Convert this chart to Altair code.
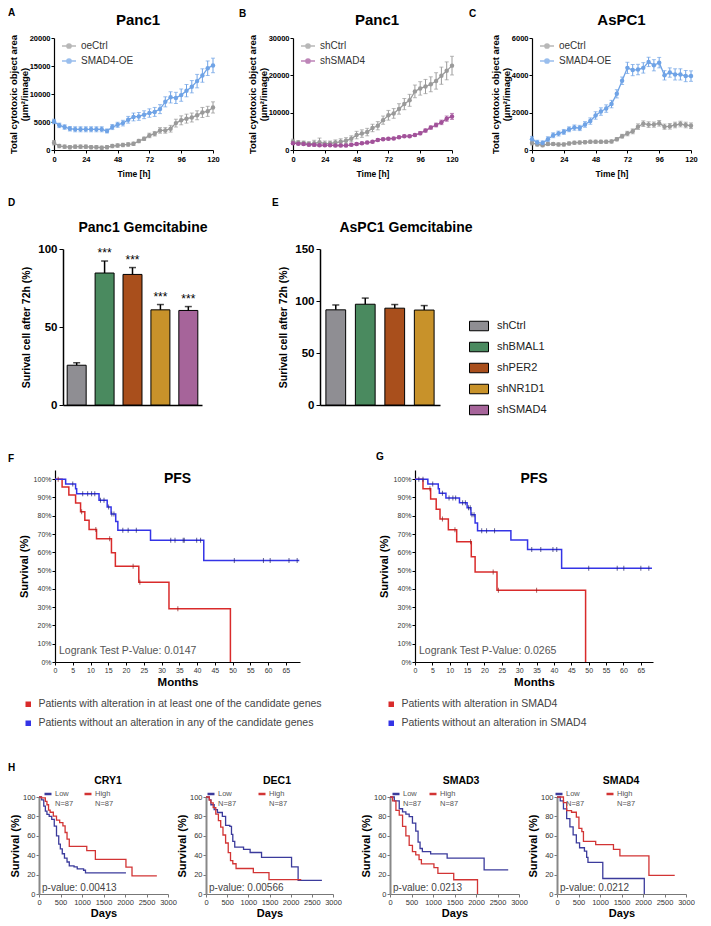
import altair as alt
import pandas as pd

FONT = "Liberation Sans"

# ---------------- data: time courses (A, B, C) ----------------
TIME = list(range(0, 121, 4))

A_NAMES = ["oeCtrl", "SMAD4-OE"]
A_CTRL = [1300, 700, 600, 500, 600, 600, 600, 500, 500, 400, 500, 700, 800, 900, 1000, 1100,
          1600, 2000, 2600, 2900, 3500, 3500, 3800, 4800, 5300, 5600, 5800, 6200, 6700, 6900, 7600]
A_CTRL_ERR = [400, 300, 300, 300, 300, 300, 300, 300, 300, 300, 300, 300, 300, 300, 300, 300,
              300, 300, 400, 400, 500, 500, 600, 700, 800, 800, 800, 800, 900, 900, 1000]
A_OE = [5100, 4400, 4100, 3800, 3700, 3700, 3700, 3700, 3700, 3700, 3400, 4100, 4500, 4800, 5400, 5900,
        6000, 6300, 6600, 6800, 7300, 8600, 9400, 9300, 9800, 10600, 11300, 12300, 13300, 14600, 15100]
A_OE_ERR = [400, 400, 400, 400, 450, 450, 450, 450, 450, 450, 350, 450, 450, 500, 600, 700,
            700, 700, 750, 800, 800, 900, 1000, 1000, 1100, 1100, 1100, 1200, 1200, 1300, 1300]

B_NAMES = ["shCtrl", "shSMAD4"]
B_CTRL = [2200, 2000, 1900, 1700, 1800, 2100, 1700, 1800, 2000, 2200, 2500, 3000, 4000, 4400, 4800, 5900,
          6500, 8000, 9300, 9800, 11000, 12300, 13300, 15700, 16500, 17000, 17600, 18500, 19900, 21200, 22600]
B_CTRL_ERR = [700, 500, 500, 500, 800, 1100, 700, 600, 700, 800, 800, 800, 1000, 1000, 1000, 1000,
              1100, 1100, 1300, 1300, 1400, 1500, 1600, 1700, 1800, 1900, 2000, 2200, 2300, 2400, 2500]
B_SH = [1800, 1700, 1600, 1400, 1400, 1300, 1300, 1300, 1200, 1200, 1200, 1400, 1600, 1800, 2000, 2200,
        2700, 2900, 3000, 3100, 3400, 3700, 3700, 4000, 4500, 5200, 6000, 6700, 7400, 8400, 9000]
B_SH_ERR = [300, 300, 300, 300, 300, 300, 300, 300, 300, 300, 300, 300, 300, 300, 300, 300,
            300, 300, 300, 300, 300, 300, 300, 300, 400, 400, 400, 500, 600, 700, 800]

C_NAMES = ["oeCtrl", "SMAD4-OE"]
C_CTRL = [370, 300, 260, 320, 320, 300, 300, 350, 390, 400, 420, 440, 440, 440, 440, 460,
          580, 740, 880, 1000, 1250, 1410, 1360, 1360, 1430, 1250, 1270, 1340, 1390, 1340, 1300]
C_CTRL_ERR = [100, 80, 80, 80, 80, 80, 80, 80, 80, 80, 80, 80, 80, 80, 80, 80,
              90, 100, 120, 130, 150, 150, 150, 140, 150, 140, 150, 150, 150, 150, 150]
C_OE = [580, 400, 370, 580, 790, 880, 970, 1110, 1200, 1180, 1370, 1550, 1850, 2060, 2220, 2460,
        3010, 3710, 4400, 4280, 4310, 4400, 4720, 4540, 4680, 4000, 4150, 4050, 4050, 3960, 3960]
C_OE_ERR = [150, 120, 120, 130, 130, 130, 130, 130, 140, 140, 150, 170, 200, 200, 200, 200,
            220, 200, 300, 300, 280, 280, 250, 300, 280, 250, 250, 300, 300, 300, 280]

# ---------------- data: bars (D, E) ----------------
CATS = ["shCtrl", "shBMAL1", "shPER2", "shNR1D1", "shSMAD4"]
BAR_COLORS = ["#8f8e93", "#4a8a5f", "#a94f1c", "#c8922a", "#a6649a"]
D_VALS = [25.5, 84.6, 83.7, 61.0, 60.6]
D_ERR = [1.6, 7.7, 4.4, 3.4, 2.5]
D_STARS = ["", "***", "***", "***", "***"]
E_CATS = ["shCtrl", "shBMAL1", "shPER2", "shNR1D1"]
E_VALS = [91.5, 96.9, 93.1, 91.3]
E_ERR = [4.7, 5.9, 3.5, 4.3]

# ---------------- data: PFS (F, G) ----------------
F_NAMES = ["Patients with alteration in at least one of the candidate genes",
           "Patients without an alteration in any of the candidate genes"]
F_RED_T = [0, 2.0, 3.9, 5.8, 7.2, 8.4, 9.6, 11.7, 15.9, 17.0, 23.6, 32.1, 49.4]
F_RED_S = [100, 95.7, 91.3, 86.9, 82.2, 77.5, 72.4, 67.4, 59.8, 52.3, 43.6, 29.1, 0]
F_RED_C = [0.9, 7.5, 11.5, 15.4, 22.0, 23.9, 34.6]
F_BLUE_T = [0, 3.0, 5.8, 6.1, 12.4, 14.7, 15.8, 17.1, 17.7, 26.9, 41.9, 68.8]
F_BLUE_S = [100, 97.4, 94.7, 92.0, 88.4, 84.8, 81.0, 76.8, 72.0, 66.6, 55.5, 55.5]
F_BLUE_C = [5.0, 7.8, 9.2, 10.3, 11.2, 12.8, 13.8, 15.1, 16.0, 16.6, 19.1, 20.6, 22.9,
            32.6, 33.8, 36.1, 36.4, 39.9, 41.0, 50.5, 58.7, 60.6, 65.9, 68.2]

G_NAMES = ["Patients with alteration in SMAD4", "Patients without an alteration in SMAD4"]
G_RED_T = [0, 2.3, 4.5, 6.1, 7.2, 9.6, 12.0, 16.2, 17.3, 23.6, 49.1]
G_RED_S = [100, 94.7, 89.2, 83.5, 78.2, 72.3, 65.7, 57.5, 49.2, 39.3, 0]
G_RED_C = [4.3, 7.9, 11.5, 16.0, 22.5, 24.0, 35.0]
G_BLUE_T = [0, 3.7, 6.7, 7.0, 8.9, 12.8, 15.0, 16.1, 17.3, 18.0, 27.6, 32.4, 42.2, 68.2]
G_BLUE_S = [100, 97.4, 94.8, 92.3, 89.7, 87.1, 84.4, 80.5, 76.0, 71.8, 66.7, 61.5, 51.3, 51.3]
G_BLUE_C = [1.1, 2.3, 5.1, 7.9, 9.8, 10.9, 11.7, 13.7, 14.5, 15.4, 15.9, 16.4, 17.0, 19.2, 20.6,
            22.9, 33.6, 36.2, 39.7, 40.8, 50.0, 58.2, 60.1, 65.0, 67.3]

# ---------------- data: overall survival (H) ----------------
H_NAMES = ["Low", "High"]
CRY1_LOW_T = [0, 59, 111, 148, 185, 237, 296, 355, 407, 459, 496, 541, 592, 652, 704, 815, 889, 1037, 1081, 2022]
CRY1_LOW_S = [100, 97, 90.5, 85.5, 82, 80, 77, 70, 60, 51.5, 46.5, 41.5, 37, 33, 29, 28, 26, 24.5, 21.7, 21.7]
CRY1_HIGH_T = [0, 52, 148, 185, 222, 259, 333, 407, 481, 556, 607, 652, 704, 1111, 1311, 2022, 2163, 2741]
CRY1_HIGH_S = [100, 99, 95.5, 92, 86.4, 84.3, 80.3, 76.2, 73.6, 70.2, 63.4, 56.6, 49.2, 44.7, 35.6, 27.8, 18.7, 18.7]

DEC1_LOW_T = [0, 77, 116, 193, 270, 386, 463, 563, 602, 633, 679, 887, 1042, 1312, 2021, 2176, 2738]
DEC1_LOW_S = [100, 97, 92, 87, 84, 80, 70.8, 69.8, 61.5, 54.3, 48.4, 46, 42.8, 37.8, 28, 14, 14]
DEC1_HIGH_T = [0, 77, 116, 170, 231, 293, 347, 401, 463, 525, 579, 633, 710, 1118, 1488, 2250]
DEC1_HIGH_S = [100, 96.7, 94, 89, 82.3, 75.7, 69, 60.8, 52.6, 42.7, 34.5, 31.2, 26.3, 22, 14.8, 14.8]

SMAD3_LOW_T = [0, 100, 215, 292, 369, 446, 522, 599, 653, 699, 753, 945, 1329, 2189, 2749]
SMAD3_LOW_S = [100, 96, 87.9, 84.6, 82.3, 79.7, 73.1, 64.9, 53.4, 46.9, 43.6, 41.3, 37, 24.9, 24.9]
SMAD3_HIGH_T = [0, 61, 138, 215, 292, 369, 446, 522, 599, 676, 730, 1022, 1114, 1482, 2035]
SMAD3_HIGH_S = [100, 96, 86.2, 81.3, 69.8, 60, 50.1, 43.6, 40.3, 35.4, 31.1, 27.2, 21.3, 14.7, 0]

SMAD4_LOW_T = [0, 75, 150, 225, 300, 375, 450, 525, 638, 690, 720, 1065, 2030]
SMAD4_LOW_S = [100, 96, 87.7, 77.7, 69.3, 61, 52.7, 47.7, 44.3, 37.7, 32.7, 16, 0]
SMAD4_HIGH_T = [0, 150, 225, 338, 450, 510, 578, 615, 900, 1313, 1463, 2138, 2738]
SMAD4_HIGH_S = [100, 94.3, 86, 84.3, 79.3, 67.7, 64.3, 54.3, 51, 46, 39.3, 19.3, 19.3]

LINE_DOT = "M-1,0H-0.3M0.3,0H1M-0.3,0A0.3,0.3,0,1,1,0.3,0A0.3,0.3,0,1,1,-0.3,0Z"
RECT = "M-1,-0.5H1V0.5H-1Z"


def label(text, x, y, size=10, weight="bold", color="black", align="left",
          baseline="top", opacity=1.0):
    return alt.Chart(alt.Data(values=[{"k": 0}])).mark_text(
        text=text, font=FONT, fontSize=size, fontWeight=weight, color=color,
        align=align, baseline=baseline, opacity=opacity
    ).encode(x=alt.value(x), y=alt.value(y))


def title_label(text, x, y, size):
    return label(text, x, y, size=size, align="center", baseline="alphabetic")


def spacer(width, letter=None, ly=0):
    if letter is None:
        lay = label(" ", 0, 0, size=2, opacity=0)
    else:
        lay = label(letter, 0, ly)
    return alt.layer(lay).properties(width=width, height=1)


# ---------------- A, B, C ----------------
def ts_panel(names, colors, vals, errs, ymax, yvals, width, height, title, tdx,
             letter=None, lx=0, ly=0):
    rows = []
    for n, v, e in zip(names, vals, errs):
        for t, a, b in zip(TIME, v, e):
            rows.append({"t": t, "v": a, "lo": a - b, "hi": a + b, "s": n})
    df = pd.DataFrame(rows)
    sc = alt.Scale(domain=names, range=colors)
    leg = alt.Legend(title=None, orient="none", legendX=7, legendY=0, symbolType=LINE_DOT,
                     symbolSize=196, symbolStrokeWidth=1.5, labelFontSize=10, labelColor="#333",
                     labelFont=FONT, rowPadding=1, labelOffset=4)
    xsc = alt.Scale(domain=[0, 120], nice=False)
    ysc = alt.Scale(domain=[0, ymax], nice=False)
    xax = alt.Axis(values=[0, 24, 48, 72, 96, 120], title="Time [h]", labelFontSize=7.5,
                   labelFontWeight="bold", titleFontSize=8.5, titleFontWeight="bold",
                   titlePadding=7, tickSize=3, domainWidth=1.2, labelPadding=2,
                   labelFlush=False, labelOverlap=False)
    yax = alt.Axis(values=yvals, format="d", title=["Total cytotoxic object area", "(µm²/image)"],
                   labelFontSize=7.5, labelFontWeight="bold", titleFontSize=9.5,
                   titleFontWeight="bold", titlePadding=0, tickSize=3, domainWidth=1.2,
                   labelPadding=1, titleLineHeight=10.5, labelOverlap=False)
    X = alt.X("t:Q", scale=xsc, axis=xax)
    base = alt.Chart(df)
    stroke = alt.Stroke("s:N", scale=sc, legend=leg)
    fill = alt.Fill("s:N", scale=sc, legend=leg)
    rule = base.mark_rule(strokeWidth=1).encode(
        X, alt.Y("lo:Q", scale=ysc, axis=yax), alt.Y2("hi:Q"), stroke=stroke)
    cap_hi = base.mark_tick(orient="horizontal", size=4, thickness=1).encode(
        X, alt.Y("hi:Q", scale=ysc, axis=yax), fill=fill)
    cap_lo = base.mark_tick(orient="horizontal", size=4, thickness=1).encode(
        X, alt.Y("lo:Q", scale=ysc, axis=yax), fill=fill)
    line = base.mark_line(strokeWidth=1.3).encode(
        X, alt.Y("v:Q", scale=ysc, axis=yax), stroke=stroke)
    pts = base.mark_point(filled=True, size=20, opacity=1).encode(
        X, alt.Y("v:Q", scale=ysc, axis=yax), fill=fill)
    layers = [line, rule, cap_hi, cap_lo, pts, title_label(title, width / 2 + tdx, -13, 15)]
    if letter is not None:
        layers.append(label(letter, lx, ly))
    return alt.layer(*layers).properties(width=width, height=height)


# ---------------- D, E ----------------
def bar_panel(cats, vals, errs, stars, ymax, yvals, width, height, title, tdx,
              pin, pout, letter=None, lx=0, ly=0, legend=None, extender=None):
    df = pd.DataFrame({"c": cats, "v": vals, "hi": [v + e for v, e in zip(vals, errs)],
                       "star": stars})
    X = alt.X("c:N", sort=cats, scale=alt.Scale(paddingInner=pin, paddingOuter=pout),
              axis=alt.Axis(labels=False, ticks=False, title=None, domainWidth=1.5))
    ysc = alt.Scale(domain=[0, ymax], nice=False)
    yax = alt.Axis(values=yvals, title="Surival cell after 72h (%)", labelFontSize=11.5,
                   labelFontWeight="bold", titleFontSize=10.5, titleFontWeight="bold",
                   titlePadding=6, tickSize=4, domainWidth=1.5, labelPadding=2, labelOverlap=False)
    base = alt.Chart(df)
    col = alt.Color("c:N", scale=alt.Scale(domain=CATS, range=BAR_COLORS),
                    legend=legend if legend is not None else None)
    bars = base.mark_bar(stroke="black", strokeWidth=1).encode(
        X, alt.Y("v:Q", scale=ysc, axis=yax), color=col)
    err = base.mark_rule(strokeWidth=1.5, color="black").encode(
        X, alt.Y("v:Q", scale=ysc, axis=yax), alt.Y2("hi:Q"))
    cap = base.mark_tick(orient="horizontal", size=7, thickness=1.5, color="black").encode(
        X, alt.Y("hi:Q", scale=ysc, axis=yax))
    layers = [bars, err, cap]
    if any(stars):
        layers.append(base.mark_text(baseline="bottom", dy=-1, fontSize=12, font=FONT).encode(
            X, alt.Y("hi:Q", scale=ysc, axis=yax), text="star:N"))
    layers.append(title_label(title, width / 2 + tdx, -17, 14))
    if letter is not None:
        layers.append(label(letter, lx, ly))
    if extender is not None:
        layers.append(label(".", 0, extender, size=4, opacity=0))
    return alt.layer(*layers).properties(width=width, height=height)


# ---------------- KM helpers ----------------
def step_value(ts, ss, c):
    val = ss[0]
    for t, s in zip(ts, ss):
        if t <= c:
            val = s
    return val


def steps_df(names, ts_list, ss_list):
    rows = []
    for n, ts, ss in zip(names, ts_list, ss_list):
        for t, s in zip(ts, ss):
            rows.append({"t": t, "s": s, "g": n})
    return pd.DataFrame(rows)


def pfs_panel(names, ts_list, ss_list, cens_list, pval, width, height, xmax,
              legx, legy, letter=None, lx=0, ly=0, extender=None):
    colors = ["#d92b2b", "#3434e6"]
    ccolors = ["#8a1a1a", "#1e1e66"]
    xsc = alt.Scale(domain=[0, xmax], nice=False)
    ysc = alt.Scale(domain=[0, 105], nice=False)
    xax = alt.Axis(values=list(range(0, 66, 5)), title="Months", labelFontSize=7,
                   labelColor="#333", titleFontSize=11.5, titleFontWeight="bold", titlePadding=3,
                   tickSize=3, domainWidth=1.2, labelPadding=1, labelFlush=False, labelOverlap=False)
    yax = alt.Axis(values=list(range(0, 101, 10)), labelExpr="datum.value + '%'",
                   title="Survival (%)", labelFontSize=7, labelColor="#333", titleFontSize=11,
                   titleFontWeight="bold", titlePadding=4, tickSize=3, domainWidth=1.2,
                   labelPadding=1, labelOverlap=False)
    X = alt.X("t:Q", scale=xsc, axis=xax)
    Y = alt.Y("s:Q", scale=ysc, axis=yax)
    leg = alt.Legend(title=None, orient="none", legendX=legx, legendY=legy, symbolType="square",
                     symbolSize=4, symbolStrokeWidth=3.5, labelFontSize=10.5, labelColor="#444",
                     labelFont=FONT, labelLimit=500, rowPadding=2, labelOffset=5)
    lines = alt.Chart(steps_df(names, ts_list, ss_list)).mark_line(
        interpolate="step-after", strokeWidth=1.5).encode(
        X, Y, color=alt.Color("g:N", scale=alt.Scale(domain=names, range=colors), legend=leg))
    layers = [lines]
    for ts, ss, cs, cc in zip(ts_list, ss_list, cens_list, ccolors):
        cdf = pd.DataFrame({"t": cs, "s": [step_value(ts, ss, c) for c in cs]})
        layers.append(alt.Chart(cdf).mark_tick(orient="vertical", size=5, thickness=1, color=cc)
                      .encode(X, Y))
    layers.append(label("PFS", width / 2, 2, size=14, align="center"))
    layers.append(label(pval, 4, height - 8, size=10.5, weight="normal", color="#555",
                        baseline="alphabetic"))
    if letter is not None:
        layers.append(label(letter, lx, ly))
    if extender is not None:
        layers.append(label(".", 0, extender, size=4, opacity=0))
    return alt.layer(*layers).properties(width=width, height=height)


def os_panel(title, title_x, low_t, low_s, high_t, high_s, pval, width, height, col_pad, legx,
             xrange=None):
    colors = ["#3b3b9c", "#d23434"]
    if xrange is None:
        xsc = alt.Scale(domain=[0, 3000], nice=False)
    else:
        xsc = alt.Scale(domain=[0, 3000], nice=False, range=[0, xrange])
    ysc = alt.Scale(domain=[0, 100], nice=False)
    xax = alt.Axis(values=list(range(0, 3001, 500)), format="d", title="Days", labelFontSize=7.5,
                   labelColor="#333", titleFontSize=11, titleFontWeight="bold", titlePadding=2,
                   tickSize=3, domainColor="#777", domainWidth=1.2, tickColor="#777",
                   labelPadding=1, labelFlush=False, labelOverlap=False)
    yax = alt.Axis(values=list(range(0, 101, 20)), title="Survival (%)", labelFontSize=7.5,
                   labelColor="#333", titleFontSize=11, titleFontWeight="bold", titlePadding=2,
                   tickSize=3, domainColor="#888", domainWidth=2, tickColor="#777",
                   labelPadding=1, labelOverlap=False)
    X = alt.X("t:Q", scale=xsc, axis=xax)
    Y = alt.Y("s:Q", scale=ysc, axis=yax)
    leg = alt.Legend(title=None, orient="none", legendX=legx, legendY=-8, direction="horizontal",
                     symbolType="stroke", symbolSize=49, symbolStrokeWidth=2.5,
                     labelFontSize=7.5, labelColor="#555", labelFont=FONT,
                     labelExpr="[datum.label, 'N=87']", columnPadding=col_pad, labelOffset=2)
    lines = alt.Chart(steps_df(H_NAMES, [low_t, high_t], [low_s, high_s])).mark_line(
        interpolate="step-after", strokeWidth=1.3).encode(
        X, Y, color=alt.Color("g:N", scale=alt.Scale(domain=H_NAMES, range=colors), legend=leg))
    layers = [lines,
              label(pval, 3, height - 1, size=10, weight="normal", color="#444", baseline="bottom"),
              title_label(title, title_x, -13, 10.5)]
    return alt.layer(*layers).properties(width=width, height=height)


RES = dict(color="independent", fill="independent", stroke="independent")

# ---------------- rows ----------------
pA = ts_panel(A_NAMES, ["#9a9a9a", "#6fa3e6"], [A_CTRL, A_OE], [A_CTRL_ERR, A_OE_ERR],
              20000, [0, 5000, 10000, 15000, 20000], 159, 112, "Panc1", 4.5)
pB = ts_panel(B_NAMES, ["#9a9a9a", "#a2529a"], [B_CTRL, B_SH], [B_CTRL_ERR, B_SH_ERR],
              30000, [0, 10000, 20000, 30000], 159, 112, "Panc1", 4.5, "B", -54, -29)
pC = ts_panel(C_NAMES, ["#9a9a9a", "#6fa3e6"], [C_CTRL, C_OE], [C_CTRL_ERR, C_OE_ERR],
              6000, [0, 2000, 4000, 6000], 159, 112, "AsPC1", 10, "C", -63, -29)
row1 = alt.hconcat(spacer(46, "A", -30), pA, spacer(80), pB, spacer(80), pC,
                   spacing=0, bounds="flush").resolve_scale(**RES)

e_leg = alt.Legend(title=None, orient="none", legendX=149, legendY=67, symbolType=RECT,
                   symbolSize=361, symbolStrokeColor="black", symbolStrokeWidth=1,
                   labelFontSize=11, labelColor="#222", labelFont=FONT, rowPadding=4,
                   labelOffset=8)
pD = bar_panel(CATS, D_VALS, D_ERR, D_STARS, 100, [0, 50, 100], 139, 156,
               "Panc1 Gemcitabine", 10.5, 0.32, 0.15, extender=179)
pE = bar_panel(E_CATS, E_VALS, E_ERR, ["", "", "", ""], 150, [0, 50, 100, 150], 120, 156,
               "AsPC1 Gemcitabine", 26, 0.33, 0.2, "E", -48, -51, legend=e_leg)
row2 = alt.hconcat(spacer(55, "D", -51), pD, spacer(118), pE,
                   spacing=0, bounds="flush").resolve_scale(**RES)

pF = pfs_panel(F_NAMES, [F_RED_T, F_BLUE_T], [F_RED_S, F_BLUE_S], [F_RED_C, F_BLUE_C],
               "Logrank Test P-Value: 0.0147", 245, 192, 69, -32, 229, extender=269)
pG = pfs_panel(G_NAMES, [G_RED_T, G_BLUE_T], [G_RED_S, G_BLUE_S], [G_RED_C, G_BLUE_C],
               "Logrank Test P-Value: 0.0265", 238, 192, 68.5, -29, 229, "G", -39, -18)
row3 = alt.hconcat(spacer(47, "F", -16), pF, spacer(115), pG,
                   spacing=0, bounds="flush").resolve_scale(**RES)

h1 = os_panel("CRY1", 69, CRY1_LOW_T, CRY1_LOW_S, CRY1_HIGH_T, CRY1_HIGH_S, "p-value: 0.00413",
              129, 97, 5, 4)
h2 = os_panel("DEC1", 71, DEC1_LOW_T, DEC1_LOW_S, DEC1_HIGH_T, DEC1_HIGH_S, "p-value: 0.00566",
              146, 97, 16, 0, xrange=127)
h3 = os_panel("SMAD3", 71, SMAD3_LOW_T, SMAD3_LOW_S, SMAD3_HIGH_T, SMAD3_HIGH_S, "p-value: 0.0213",
              129, 97, 2, 1)
h4 = os_panel("SMAD4", 64, SMAD4_LOW_T, SMAD4_LOW_S, SMAD4_HIGH_T, SMAD4_HIGH_S, "p-value: 0.0212",
              129, 97, 16, -3)
row4 = alt.hconcat(spacer(31, "H", -34), h1, spacer(38), h2, spacer(38), h3, spacer(38), h4,
                   spacing=0, bounds="flush").resolve_scale(**RES)

chart = alt.concat(row1, row2, row3, row4, columns=1, spacing=20, bounds="full") \
    .resolve_scale(**RES) \
    .properties(padding=0) \
    .configure_view(stroke=None) \
    .configure_axis(grid=False, domainColor="black", tickColor="black", labelColor="black",
                    titleColor="black", labelFont=FONT, titleFont=FONT) \
    .configure_legend(labelFont=FONT) \
    .configure_title(font=FONT)

chart.save("out.html", embed_options={"renderer": "svg", "actions": False})
